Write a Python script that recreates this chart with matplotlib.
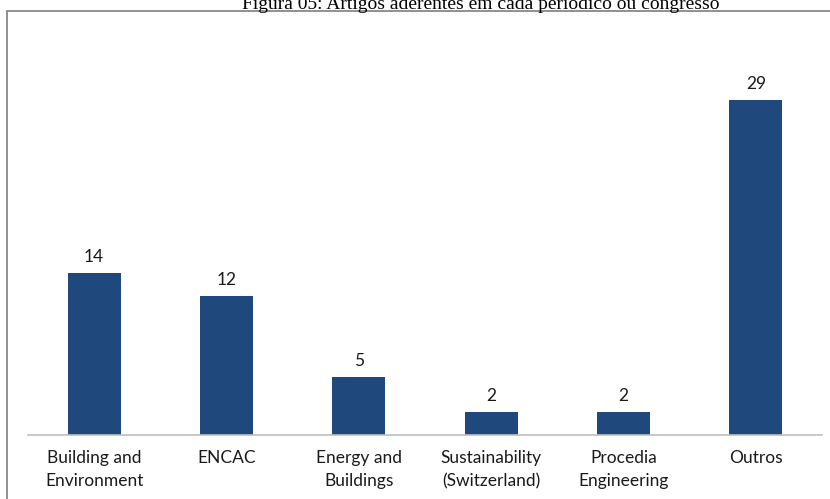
import matplotlib.pyplot as plt
from matplotlib.patches import Rectangle

# dados
categorias = ["Building and\nEnvironment", "ENCAC", "Energy and\nBuildings",
              "Sustainability\n(Switzerland)", "Procedia\nEngineering", "Outros"]
artigos = [14, 12, 5, 2, 2, 29]

W, H = 830, 499
fig = plt.figure(figsize=(W / 100, H / 100), dpi=100)
ax = fig.add_axes([28 / W, 1 - 435 / H, (822 - 28) / W, (435 - 65.4) / H])

x = range(len(categorias))
barras = ax.bar(x, artigos, width=0.4, color="#1F497D")
ax.set_xlim(-0.5, len(categorias) - 0.5)
ax.set_ylim(0, 32)

for b, v in zip(barras, artigos):
    ax.annotate(str(v), (b.get_x() + b.get_width() / 2, v), xytext=(0, 8),
                textcoords="offset pixels", ha="center", va="bottom",
                fontsize=12.5, family="Lato", color="#1a1a1a")

ax.set_xticks(list(x))
ax.set_xticklabels(categorias, fontsize=12.5, family="Lato", color="#1a1a1a",
                   linespacing=1.5)
ax.tick_params(axis="x", length=0, pad=11)
ax.set_yticks([])
for s in ["top", "right", "left"]:
    ax.spines[s].set_visible(False)
ax.spines["bottom"].set_color("#BFBFBF")
ax.spines["bottom"].set_linewidth(1.2)

# moldura e título (recortados como na figura original)
fig.patches.append(Rectangle((6.5 / W, -0.1), 1.2, 1 - 11.5 / H + 0.1,
                             transform=fig.transFigure, fill=False,
                             edgecolor="#888888", linewidth=1.3))
fig.text(481 / W, 1 - 9 / H, "Figura 05: Artigos aderentes em cada periódico ou congresso",
         ha="center", va="baseline", fontsize=14, family="Liberation Serif")

fig.savefig("out.png", dpi=100)
